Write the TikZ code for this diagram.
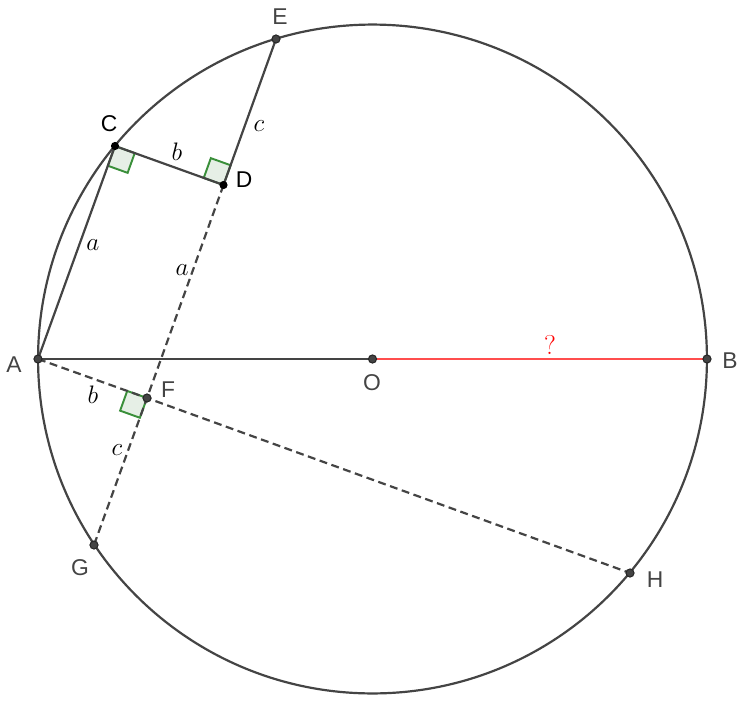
\documentclass[tikz,border=0pt]{standalone}
\usepackage{fontspec}
\setsansfont{Liberation Sans}
\usetikzlibrary{calc}
\definecolor{ggray}{HTML}{444444}
\definecolor{gred}{HTML}{FF4D4D}
\definecolor{ggreen}{HTML}{3A8F3A}
\definecolor{gfill}{HTML}{E6EFE6}

% 直角记号: 顶点, 两边方向上的点
\newcommand{\zhijiao}[3]{%
  \coordinate (u) at ($(#1)!0.42cm!(#2)$);
  \coordinate (v) at ($(#1)!0.42cm!(#3)$);
  \filldraw[jiao] (#1) -- (u) -- ($(u)+(v)-(#1)$) -- (v) -- cycle;
}

\begin{document}
\begin{tikzpicture}[x=0.02cm,y=-0.02cm,line width=1.25pt,
    xian/.style={draw=ggray},
    xuxian/.style={draw=ggray,dash pattern=on 4.5pt off 2.6pt},
    jiao/.style={draw=ggreen,fill=gfill,line width=1.1pt},
    dian/.style={fill=ggray,draw=black!85,line width=0.6pt},
    hei/.style={fill=black,draw=black,line width=0.6pt},
    biao/.style={font=\sffamily\fontsize{13}{15}\selectfont,text=ggray},
    zi/.style={font=\fontsize{15.5}{17}\selectfont}]
    \useasboundingbox (0,0) rectangle (747,700);

    % 定义各点
    \coordinate (O) at (372.5,359);
    \coordinate (A) at (38,359);
    \coordinate (B) at (707,359);
    \coordinate (E) at (276,39);
    \coordinate (C) at (115,146);
    \coordinate (D) at (223.5,185);
    \coordinate (F) at (147,398);
    \coordinate (G) at (94,545);
    \coordinate (H) at (630,573);

    % 直角记号
    \zhijiao{C}{D}{A}
    \zhijiao{D}{E}{C}
    \zhijiao{F}{A}{G}

    % 圆和线段
    \draw[xian] (O) circle [radius=6.69cm];
    \draw[xian] (A) -- (O);
    \draw[gred,line width=1.45pt] (O) -- (B);
    \draw[xian] (A) -- (C) -- (D) -- (E);
    \draw[xuxian] (D) -- (F) -- (G);
    \draw[xuxian] (A) -- (F) -- (H);

    % 长度标注
    \node[zi] (la1) at (93,245) {$a$};
    \node[zi] (lb1) at (177,152) {$b$};
    \node[zi] (lc1) at (259,126) {$c$};
    \node[zi] (la2) at (182,270) {$a$};
    \node[zi] (lb2) at (93,395) {$b$};
    \node[zi] (lc2) at (117,450) {$c$};
    \node[zi,text=red] (lq) at (550,345) {?};

    % 各点的实心圆点和名字
    \filldraw[dian] (A) circle (2.3pt);
    \filldraw[dian] (B) circle (2.3pt);
    \filldraw[dian] (O) circle (2.3pt);
    \filldraw[dian] (E) circle (2.3pt);
    \filldraw[dian] (F) circle (2.3pt);
    \filldraw[dian] (G) circle (2.3pt);
    \filldraw[dian] (H) circle (2.3pt);
    \filldraw[hei] (C) circle (2pt);
    \filldraw[hei] (D) circle (2pt);
    \node[biao] (nA) at (14,365) {A};
    \node[biao] (nB) at (730,361) {B};
    \node[biao] (nO) at (372,383) {O};
    \node[biao] (nE) at (280,17) {E};
    \node[biao] (nF) at (168,390) {F};
    \node[biao] (nG) at (80,568) {G};
    \node[biao] (nH) at (655,580) {H};
    \node[biao,text=black] (nC) at (109,124) {C};
    \node[biao,text=black] (nD) at (244,180) {D};
\end{tikzpicture}
\end{document}
